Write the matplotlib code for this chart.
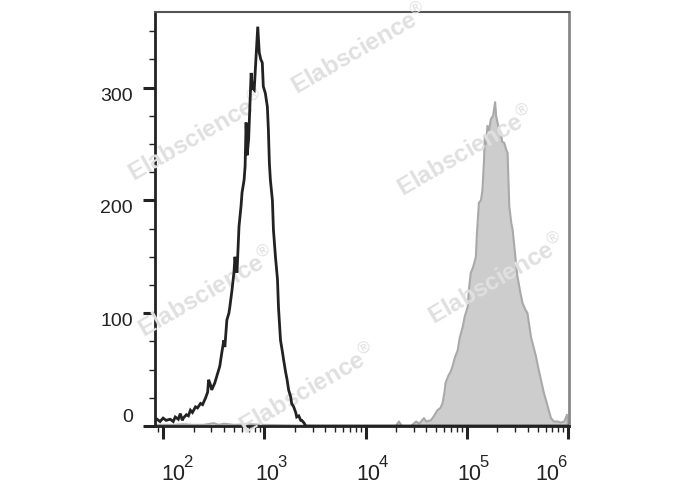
# flow histogram: black open curve + grey filled curve, log x axis

import matplotlib.pyplot as plt
import matplotlib.transforms as mtransforms
import numpy as np

plt.rcParams['font.family'] = ['Liberation Sans', 'DejaVu Sans']
plt.rcParams['mathtext.fontset'] = 'custom'
plt.rcParams['mathtext.rm'] = 'Liberation Sans'

# black (unstained / control) curve, x as log10 of intensity
black_exp = [1.94, 1.97, 2.00, 2.03, 2.07, 2.10, 2.12, 2.15, 2.17, 2.19, 2.20, 2.23,
             2.25, 2.27, 2.29, 2.32, 2.34, 2.37, 2.39, 2.42, 2.44, 2.45, 2.47, 2.48,
             2.51, 2.53, 2.55, 2.56, 2.58, 2.60, 2.61, 2.63, 2.65, 2.66, 2.68, 2.70,
             2.71, 2.72, 2.73, 2.75, 2.77, 2.78, 2.80, 2.81, 2.82, 2.83, 2.845, 2.86,
             2.87, 2.88, 2.90, 2.92, 2.935, 2.95, 2.965, 2.98, 2.99, 3.01, 3.03, 3.04,
             3.05, 3.06, 3.08, 3.09, 3.11, 3.13, 3.14, 3.16, 3.18, 3.19, 3.21, 3.225,
             3.24, 3.26, 3.27, 3.29, 3.31, 3.32, 3.34, 3.36, 3.37, 3.39, 3.41, 6.05]
black_cnt = [6, 4, 7, 5, 6, 4, 8, 6, 11, 5, 7, 10,
             9, 14, 12, 17, 16, 20, 19, 25, 30, 41, 36, 32,
             38, 44, 50, 53, 65, 76, 70, 94, 100, 106, 120, 136,
             150, 140, 136, 177, 195, 207, 218, 230, 269, 240, 254, 290,
             313, 300, 298, 330, 354, 331, 325, 322, 301, 295, 283, 263,
             233, 218, 200, 174, 150, 130, 105, 76, 65, 59, 48, 41,
             32, 26, 20, 17, 12, 8, 9, 5, 5, 3, 0, 0]

# grey filled (stained) curve
grey_exp = [1.92, 2.00, 2.10, 2.20, 2.30, 2.40, 2.50, 2.55, 2.60, 2.70, 2.85, 3.00,
            3.30, 3.50, 4.30, 4.33, 4.36, 4.45, 4.50, 4.53, 4.577, 4.60, 4.644, 4.67,
            4.71, 4.74, 4.76, 4.78, 4.79, 4.82, 4.84, 4.86, 4.88, 4.91, 4.93, 4.96,
            4.98, 5.01, 5.02, 5.04, 5.06, 5.09, 5.10, 5.12, 5.14, 5.155, 5.17, 5.178,
            5.19, 5.205, 5.22, 5.238, 5.26, 5.28, 5.29, 5.304, 5.32, 5.337, 5.35, 5.37,
            5.39, 5.403, 5.42, 5.44, 5.453, 5.48, 5.50, 5.53, 5.551, 5.58, 5.60, 5.634,
            5.66, 5.683, 5.71, 5.733, 5.76, 5.782, 5.81, 5.832, 5.86, 5.898, 5.93, 5.964,
            5.99, 6.00]
grey_cnt = [1, 1, 1, 1.5, 1, 1, 2.5, 1, 2, 1, 1.5, 1,
            0.5, 0, 0, 4, 0, 0, 4, 2, 7, 4, 5, 8,
            14, 16, 20, 30, 38, 45, 48, 53, 60, 67, 78, 88,
            97, 106, 120, 136, 140, 150, 170, 198, 200, 209, 235, 257,
            250, 266, 262, 272, 275, 287, 275, 269, 262, 260, 252, 251,
            245, 242, 195, 180, 174, 150, 133, 118, 109, 103, 100, 79,
            70, 62, 50, 41, 30, 23, 14, 7, 4, 4, 3, 4,
            10, 0]

y_ticks = [0, 100, 200, 300]
x_decades = [2, 3, 4, 5, 6]

watermarks = [(360, 50), (197, 137), (466, 152), (207, 293), (497, 280), (308, 390)]

fig = plt.figure(figsize=(6.88, 4.9), dpi=100)
ax = fig.add_axes([155 / 688, 1 - 426 / 490, 414 / 688, 414 / 490])

gx = 10 ** np.array(grey_exp)
bx = 10 ** np.array(black_exp)
ax.fill_between(gx, grey_cnt, 0, color='#cdcdcd', lw=0, zorder=2)
ax.plot(gx, grey_cnt, color='#a9a9a9', lw=1.5, zorder=2.2)
ax.plot(bx, black_cnt, color='#222222', lw=2, zorder=4, solid_joinstyle='miter')

for (px, py) in watermarks:
    ax.text(px / 688, 1 - py / 490, r'Elabscience$^{\circledR}$', transform=fig.transFigure,
            rotation=30, rotation_mode='anchor', ha='center', va='center',
            fontsize=17.5, fontweight='bold', color='#e0e0e0', zorder=3, clip_on=False)

ax.set_xscale('log')
ax.set_xlim(10 ** 1.92, 10 ** 6.01)
ax.set_ylim(0, 367)

ax.set_xticks([10 ** d for d in x_decades])
ax.set_xticklabels([])
minor = [k * 10 ** d for d in range(1, 6) for k in range(2, 10)]
ax.set_xticks([m for m in minor if 10 ** 1.92 <= m <= 10 ** 6.01], minor=True)
ax.xaxis.set_minor_formatter(plt.NullFormatter())

# x labels: "10" with a raised exponent, drawn by hand (pixel offsets from the tick)
for i, d in enumerate(x_decades):
    if i == 0:
        dx_base, dx_exp = 10, 20
    elif i == len(x_decades) - 1:
        dx_base, dx_exp = -21, -11
    else:
        dx_base, dx_exp = 3, 13
    tb = mtransforms.offset_copy(ax.get_xaxis_transform(), fig=fig, x=dx_base, y=-54, units='dots')
    te = mtransforms.offset_copy(ax.get_xaxis_transform(), fig=fig, x=dx_exp, y=-41, units='dots')
    ax.text(10 ** d, 0, '10', transform=tb, ha='center', va='baseline',
            fontsize=15.5, color='#222222', clip_on=False)
    ax.text(10 ** d, 0, str(d), transform=te, ha='left', va='baseline',
            fontsize=12, color='#222222', clip_on=False)

ax.set_yticks(y_ticks)
ax.set_yticklabels([str(v) for v in y_ticks])
ax.set_yticks(np.arange(25, 367, 25), minor=True)

ax.tick_params(axis='both', which='major', direction='out', length=9, width=2.2,
               labelsize=14, color='#222222', labelcolor='#222222')
ax.tick_params(axis='both', which='minor', direction='out', length=4.5, width=1,
               color='#222222')
ax.tick_params(axis='y', which='major', pad=7)

for s in ['left', 'bottom']:
    ax.spines[s].set_color('#222222')
    ax.spines[s].set_linewidth(2)
ax.spines['top'].set_color('#555555')
ax.spines['top'].set_linewidth(1.5)
ax.spines['right'].set_color('#888888')
ax.spines['right'].set_linewidth(2)

# y labels hang below their tick, 0 sits above
ylabs = ax.get_yticklabels()
ylabs[0].set_verticalalignment('bottom')
for lab in ylabs[1:]:
    lab.set_verticalalignment('top')

fig.savefig('out.png', dpi=100)
